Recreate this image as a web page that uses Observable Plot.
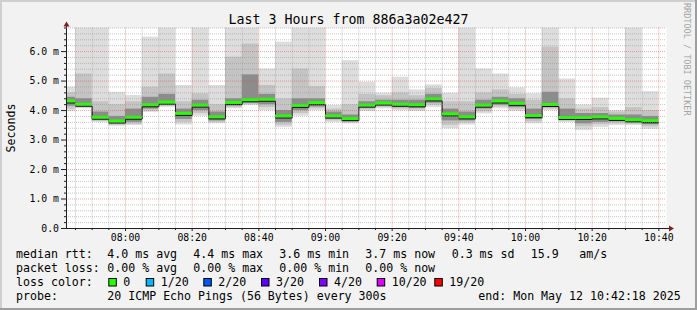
<!DOCTYPE html>
<html><head><meta charset="utf-8">
<script src="https://cdn.jsdelivr.net/npm/d3@7"></script>
<script src="https://cdn.jsdelivr.net/npm/@observablehq/plot@0.6"></script>
<style>
html,body{margin:0;padding:0;background:#f2f2f2;}
#chart svg{display:block;}
</style></head><body><div id="chart"></div>
<script>
// ---- data ----
const times   = ["07:40","07:45","07:50","07:55","08:00","08:05","08:10","08:15","08:20","08:25","08:30","08:35","08:40","08:45","08:50","08:55","09:00","09:05","09:10","09:15","09:20","09:25","09:30","09:35","09:40","09:45","09:50","09:55","10:00","10:05","10:10","10:15","10:20","10:25","10:30","10:35"];
const median  = [4.31,4.20,3.76,3.63,3.76,4.18,4.27,3.89,4.17,3.77,4.26,4.35,4.37,3.80,4.16,4.25,3.80,3.71,4.17,4.24,4.20,4.18,4.38,3.87,3.77,4.17,4.31,4.23,3.81,4.19,3.75,3.75,3.77,3.72,3.67,3.64];
const pingMin = [3.97,4.06,3.60,3.47,3.49,3.94,4.11,3.51,3.81,3.55,4.06,4.17,4.00,3.43,3.81,4.00,3.60,3.55,3.97,4.06,4.00,3.97,4.11,3.38,3.51,3.89,4.06,3.97,3.55,4.00,3.60,3.32,3.43,3.49,3.49,3.36];
const midLo   = [4.05,4.09,3.63,3.50,3.53,3.98,4.14,3.60,3.90,3.60,4.10,4.20,4.10,3.50,3.90,4.06,3.65,3.58,4.02,4.10,4.05,4.02,4.18,3.50,3.58,3.96,4.12,4.03,3.62,4.05,3.64,3.45,3.52,3.55,3.53,3.45];
const innerLo = [4.15,4.12,3.68,3.55,3.60,4.05,4.18,3.70,4.00,3.65,4.15,4.25,4.20,3.60,4.00,4.12,3.70,3.62,4.08,4.15,4.10,4.08,4.25,3.65,3.65,4.05,4.18,4.10,3.70,4.10,3.68,3.55,3.60,3.62,3.58,3.52];
const innerHi = [4.45,4.40,3.95,3.80,4.05,4.45,4.55,4.05,4.35,3.95,4.40,5.21,4.55,4.00,4.40,4.40,3.95,3.85,4.30,4.35,4.35,4.35,4.55,4.05,3.95,4.35,4.45,4.40,4.05,4.62,4.05,3.90,3.90,3.85,3.85,3.80];
const midHi   = [4.60,5.24,4.30,4.20,4.30,4.79,5.24,4.30,4.57,4.20,5.81,6.26,4.85,4.40,5.41,4.81,4.05,4.20,4.55,4.50,4.60,4.50,4.75,4.30,4.30,4.60,4.70,4.55,4.35,6.15,4.40,4.05,4.10,3.95,4.10,4.00];
const pingMax = [4.79,7.50,7.50,4.62,4.51,6.49,7.50,4.85,7.50,4.85,7.50,7.50,5.41,6.32,7.50,7.50,4.17,5.69,4.96,4.59,5.13,4.70,4.87,4.59,7.50,5.41,5.24,4.77,4.57,7.50,5.07,4.19,4.42,4.00,7.50,4.64];

const yTicks = [0,1,2,3,4,5,6];
const xTickLabels = ["08:00","08:20","08:40","09:00","09:20","09:40","10:00","10:20","10:40"];

const titleText = "Last 3 Hours from 886a3a02e427";
const rttItems  = ["4.0 ms avg","4.4 ms max","3.6 ms min","3.7 ms now","0.3 ms sd","15.9","am/s"];
const lossItems = ["0.00 % avg","0.00 % max","0.00 % min","0.00 % now"];
const lossLabels = ["0","1/20","2/20","3/20","4/20","10/20","19/20"];
const lossColors = ["#26ff00","#00b8ff","#0059ff","#5e00ff","#7e00ff","#dd00ff","#ff0000"];
const probeText = "20 ICMP Echo Pings (56 Bytes) every 300s";
const endText = "end: Mon May 12 10:42:18 2025";

// ---- build ----
const parse = s => { const [h,m] = s.split(":").map(Number); return new Date(Date.UTC(2025,4,12,h,m)); };
const endTime = new Date(Date.UTC(2025,4,12,10,42,18));
const startTime = new Date(+endTime - 3*3600e3);
const stepMs = 300e3;
const bars = times.map((t,i) => ({x1: parse(t), x2: new Date(+parse(t)+stepMs), med: median[i],
  min: pingMin[i], mlo: midLo[i], ilo: innerLo[i], ihi: innerHi[i], mhi: midHi[i], max: pingMax[i]}));
const stepLine = bars.map(b => ({x: b.x1, y: b.med})).concat([{x: bars[bars.length-1].x2, y: bars[bars.length-1].med}]);

const majorX = xTickLabels.map(parse);
const minorX = d3.utcMinute.every(5).range(startTime, endTime).filter(d => d.getUTCMinutes() % 20 !== 0);
const majorY = yTicks.filter(v => v > 0);
const minorY = d3.range(1, 35).map(i => i/5).filter(v => Math.abs(v - Math.round(v)) > 1e-6);

const MONO = "DejaVu Sans Mono";
const gridMinor = {stroke: "#8f8f8f", strokeOpacity: 0.5, strokeDasharray: "1,1"};
const gridMajor = {stroke: "#de4f4f", strokeOpacity: 0.5, strokeDasharray: "1,1"};

const plot = Plot.plot({
  width: 697, height: 310,
  marginLeft: 66, marginRight: 31, marginTop: 27.5, marginBottom: 82,
  style: {background: "#f2f2f2", fontFamily: MONO, fontSize: "9.8px", color: "#000", overflow: "visible"},
  x: {type: "utc", domain: [startTime, endTime], label: null},
  y: {domain: [0, 6.8], label: null},
  marks: [
    Plot.frame({fill: "white", stroke: "none"}),
    Plot.rect(bars, {x1: "x1", x2: "x2", y1: "min", y2: "max", fill: "#dddddd", clip: true}),
    Plot.rect(bars, {x1: "x1", x2: "x2", y1: "mlo", y2: "mhi", fill: "#c4c4c4", clip: true}),
    Plot.rect(bars, {x1: "x1", x2: "x2", y1: "ilo", y2: "ihi", fill: "#8c8c8c", clip: true}),
    Plot.line(stepLine, {x: "x", y: "y", curve: "step-after", stroke: "#000", strokeWidth: 1, dy: 1.5, clip: true}),
    Plot.rect(bars, {x1: "x1", x2: "x2", y1: d => d.med - 0.05, y2: d => d.med + 0.05, fill: "#26ff00", clip: true}),
    Plot.ruleX(minorX, gridMinor),
    Plot.ruleY(minorY, gridMinor),
    Plot.ruleX(majorX, gridMajor),
    Plot.ruleY(majorY, gridMajor),
    Plot.axisX({ticks: minorX, tickSize: 2, tickFormat: () => "", stroke: "#1f1f1f"}),
    Plot.axisX({ticks: majorX, tickSize: 3, tickPadding: 3, tickFormat: d3.utcFormat("%H:%M"), stroke: "#1f1f1f"}),
    Plot.axisY({ticks: minorY, tickSize: 2, tickFormat: () => "", stroke: "#1f1f1f"}),
    Plot.axisY({ticks: yTicks, tickSize: 5, tickPadding: 2.5, tickFormat: d => d === 0 ? "0.0" : d.toFixed(1) + " m", stroke: "#1f1f1f"}),
    Plot.ruleY([0], {stroke: "#1f1f1f"}),
    Plot.ruleX([startTime], {stroke: "#1f1f1f"})
  ]
});

const svg = d3.select(plot);
const xs = plot.scale("x"), ys = plot.scale("y");
const x0 = xs.apply(startTime), x1 = xs.apply(endTime), y0 = ys.apply(0), yTop = ys.apply(6.8);

// axis extensions + arrows
svg.append("line").attr("x1", x1).attr("x2", x1 + 4).attr("y1", y0 + 0.5).attr("y2", y0 + 0.5).attr("stroke", "#1f1f1f");
svg.append("line").attr("x1", x0 + 0.5).attr("x2", x0 + 0.5).attr("y1", yTop).attr("y2", yTop - 3).attr("stroke", "#1f1f1f");
svg.append("path").attr("d", `M${x1 + 3},${y0 - 2.5}L${x1 + 8},${y0 + 0.5}L${x1 + 3},${y0 + 3.5}Z`).attr("fill", "#801f1f");
svg.append("path").attr("d", `M${x0 - 2.5},${yTop - 1}L${x0 + 0.5},${yTop - 6}L${x0 + 3.5},${yTop - 1}Z`).attr("fill", "#801f1f");

// 3D border
svg.append("rect").attr("x", 0).attr("y", 0).attr("width", 697).attr("height", 2).attr("fill", "#cfcfcf");
svg.append("rect").attr("x", 0).attr("y", 0).attr("width", 2).attr("height", 310).attr("fill", "#cfcfcf");
svg.append("rect").attr("x", 0).attr("y", 308).attr("width", 697).attr("height", 2).attr("fill", "#9e9e9e");
svg.append("rect").attr("x", 695).attr("y", 0).attr("width", 2).attr("height", 310).attr("fill", "#9e9e9e");

const txt = (x, y, s, size, extra = {}) => {
  const t = svg.append("text").attr("x", x).attr("y", y).text(s)
    .attr("font-family", MONO).attr("font-size", size).attr("fill", extra.fill || "#000")
    .attr("text-anchor", extra.anchor || "start")
    .style("white-space", "pre");
  if (extra.transform) t.attr("transform", extra.transform).attr("x", 0).attr("y", 0);
  return t;
};

txt(348.5, 24, titleText, "13.3px", {anchor: "middle"});
txt(0, 0, "Seconds", "11.6px", {anchor: "middle", transform: "translate(15,128) rotate(-90)"});
txt(0, 0, "RRDTOOL / TOBI OETIKER", "8.5px", {fill: "#a4a4a4", transform: "translate(684,3) rotate(90)"});

const LF = "11.6px";
const col0 = 16;
const rttX = [107.3, 193.3, 279.3, 365.3, 451.7, 530.7, 579.3];
txt(col0, 258, "median rtt:", LF);
rttItems.forEach((s, i) => txt(rttX[i], 258, s, LF));
txt(col0, 272, "packet loss:", LF);
lossItems.forEach((s, i) => txt(rttX[i], 272, s, LF));
txt(col0, 286, "loss color:", LF);
const sqX = [108.3, 145.7, 203.3, 261, 319, 376.7, 434.3];
lossLabels.forEach((s, i) => {
  svg.append("rect").attr("x", sqX[i] + 0.5).attr("y", 278.5).attr("width", 7.5).attr("height", 7.5)
    .attr("fill", lossColors[i]).attr("stroke", "#000").attr("stroke-width", 1);
  txt(sqX[i] + 15, 286, s, LF);
});
txt(col0, 300, "probe:", LF);
txt(107.3, 300, probeText, LF);
txt(478.3, 300, endText, LF);

document.getElementById("chart").appendChild(plot);
</script>
</body></html>
